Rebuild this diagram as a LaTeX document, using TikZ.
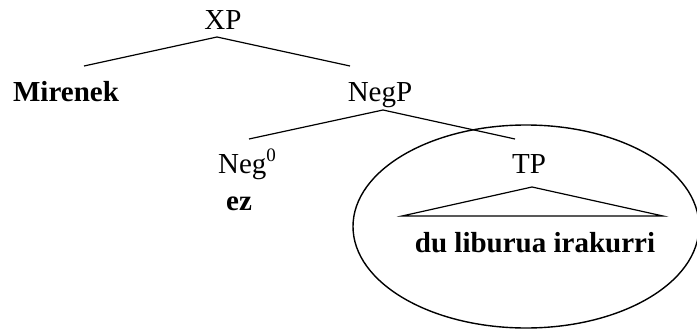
\documentclass[tikz,border=0pt]{standalone}
\usepackage{fontspec}
\setmainfont{Liberation Serif}
\usetikzlibrary{shapes.geometric}
\begin{document}
\begin{tikzpicture}[x=1pt,y=-1pt,
  lbl/.style={inner sep=0pt, anchor=base, font=\fontsize{29}{34}\selectfont},
  bl/.style={inner sep=0pt, anchor=base, font=\fontsize{29}{34}\selectfont\bfseries},
  edge/.style={line width=1.2pt},
  ring/.style={draw, ellipse, line width=1.4pt, inner sep=0pt, minimum width=346pt, minimum height=203pt}]
\useasboundingbox (0,0) rectangle (697,329);
% labels
\node[lbl] (xp) at (223,29.5) {XP};
\node[bl] (mir) at (66,102) {Mirenek};
\node[lbl] (negp) at (380,102) {NegP};
\node[lbl] (neg) at (247,173) {Neg\raisebox{12pt}{\fontsize{19}{19}\selectfont 0}};
\node[bl] (ez) at (239,210) {ez};
\node[lbl] (tp) at (529,173) {TP};
\node[bl] (words) at (535,252) {du liburua irakurri};
% branch points
\coordinate (xpA) at (217,37);
\coordinate (xpL) at (84,66);
\coordinate (xpR) at (350,66);
\coordinate (negA) at (383,110);
\coordinate (negL) at (249,139);
\coordinate (negR) at (515,139);
\coordinate (tpA) at (532,187);
\coordinate (tpL) at (402,216);
\coordinate (tpR) at (663,216);
% branches
\draw[edge] (xpL) -- (xpA) -- (xpR);
\draw[edge] (negL) -- (negA) -- (negR);
\draw[edge] (tpL) -- (tpA) -- (tpR) -- cycle;
% circle round TP
\node[ring] (tpring) at (526,226.5) {};
\end{tikzpicture}
\end{document}
